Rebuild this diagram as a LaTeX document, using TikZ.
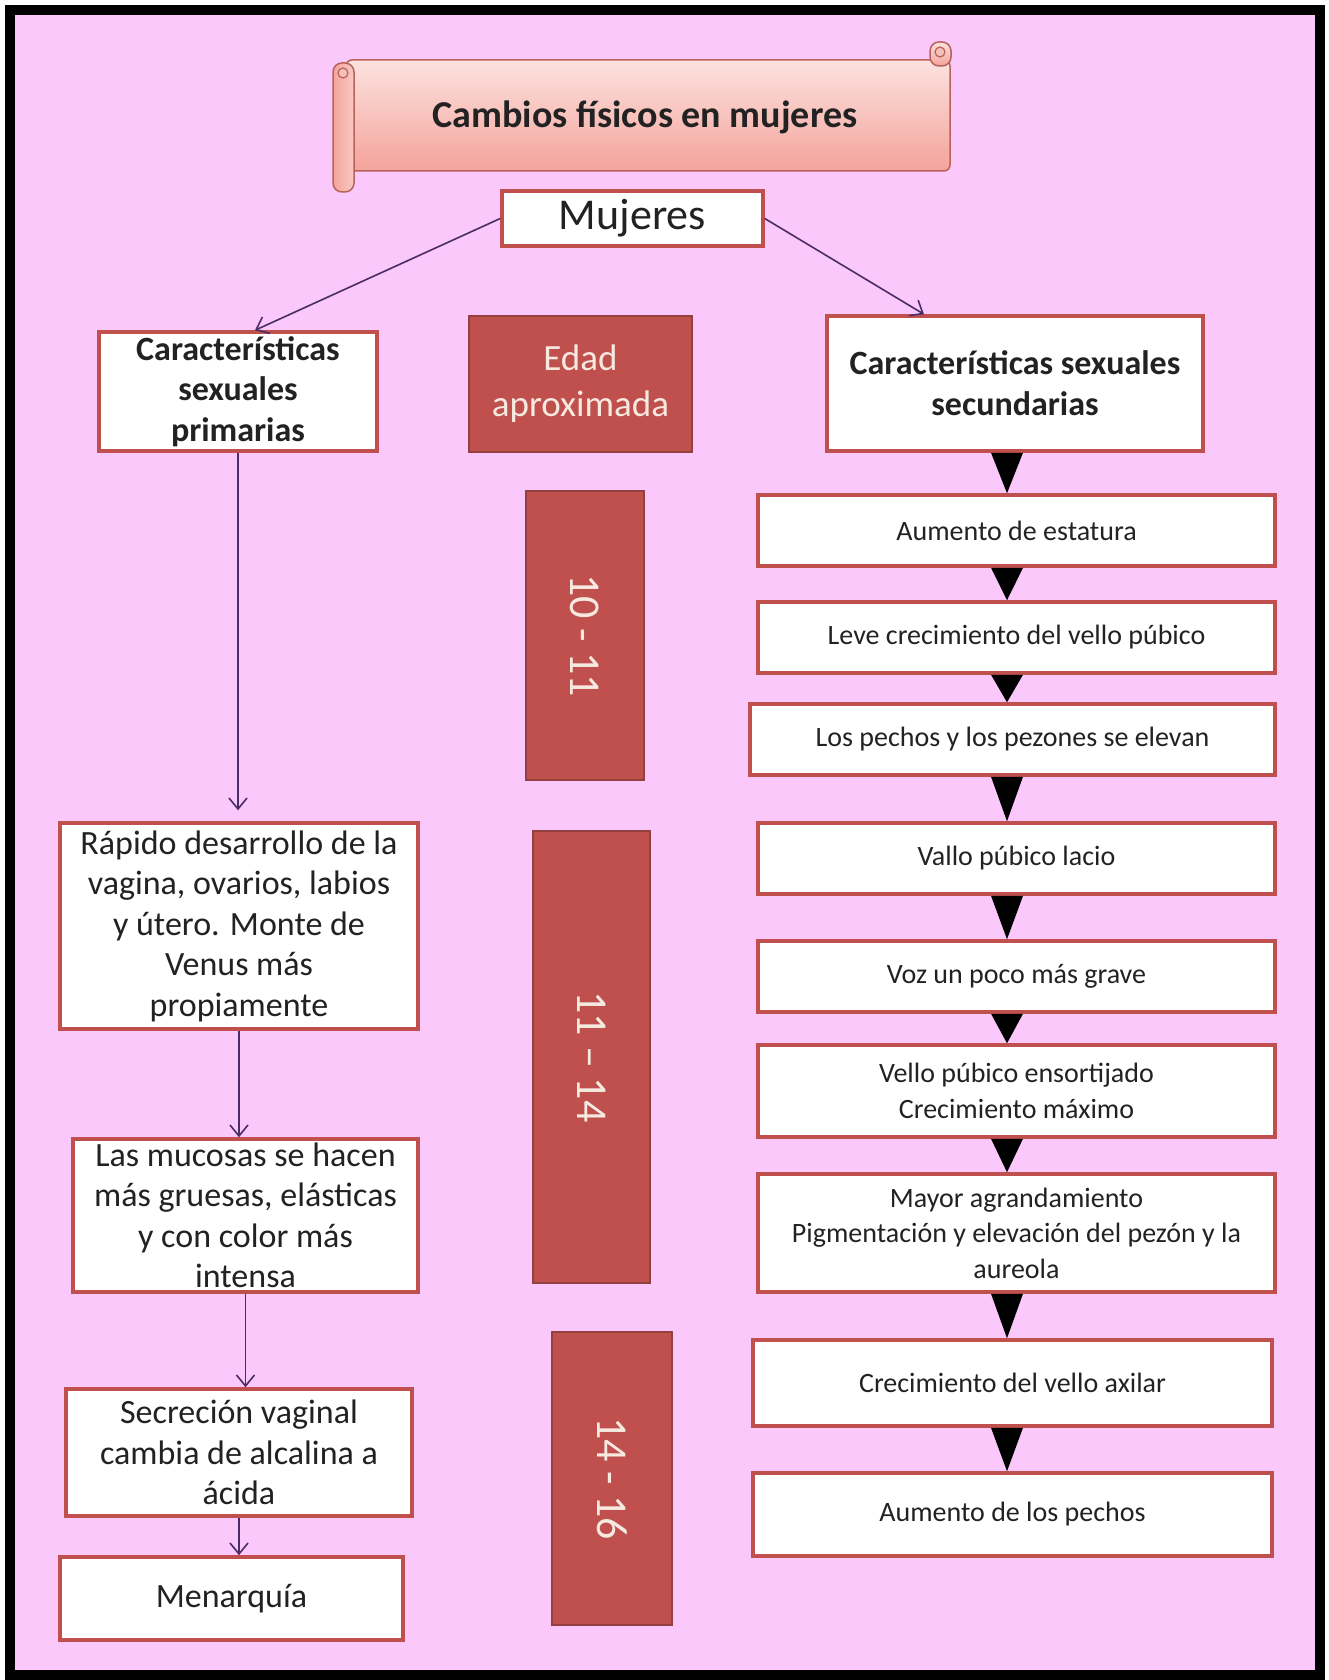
\documentclass[tikz,border=0pt]{standalone}
\usepackage{fontspec}
\setmainfont{Carlito}
\usetikzlibrary{arrows.meta,calc}
\definecolor{bgpink}{HTML}{FBC8FB}
\definecolor{boxred}{HTML}{C0504D}
\definecolor{agefill}{HTML}{C0504D}
\definecolor{ageline}{HTML}{93403E}
\definecolor{agetext}{HTML}{F6E9E0}
\definecolor{arrowcol}{HTML}{4A2D67}
\definecolor{txtcol}{HTML}{222222}
\definecolor{scrolltop}{HTML}{FCE2DF}
\definecolor{scrollbot}{HTML}{F4A39B}
\definecolor{scrollline}{HTML}{B8625C}
\newcommand\myfs[2]{\fontsize{#1}{#2}\selectfont}
\begin{document}
\begin{tikzpicture}[x=1pt,y=-1pt,
  rbox/.style={draw=boxred, line width=3.5pt, fill=white, inner sep=0pt, align=center, text=txtcol},
  agebox/.style={draw=ageline, line width=2.5pt, fill=agefill, inner sep=0pt, align=center, text=agetext},
  conn/.style={draw=arrowcol, line width=1.6pt, -{Straight Barb[length=11pt,width=18pt,line width=1.6pt]}},
  lefttxt/.style={font=\myfs{34}{40.5}},
  righttxt/.style={font=\myfs{28}{35.5}},
  agetxt/.style={font=\myfs{44}{50}}
]
\useasboundingbox (0,0) rectangle (1328,1680);
\fill[white] (0,0) rectangle (1328,1680);
\draw[line width=10pt, fill=bgpink] (10,10) rectangle (1320,1675);

% scroll
\shade[top color=scrolltop, bottom color=scrollbot, draw=scrollline, line width=1.5pt, rounded corners=6pt]
  (346,60) rectangle (950,171);
\shade[top color=scrolltop, bottom color=scrollbot, draw=scrollline, line width=1.5pt, rounded corners=9pt]
  (930,42) rectangle (951,66);
\draw[scrollline, line width=1.2pt, fill=scrollbot!70!white] (940,52) circle (5);
\shade[left color=scrollbot, right color=scrolltop!60!scrollbot, draw=scrollline, line width=1.5pt, rounded corners=9pt]
  (333,63) rectangle (354,192);
\draw[scrollline, line width=1.2pt, fill=scrollbot!70!white] (343,73) circle (5);
\node[font=\myfs{38}{46}\bfseries, text=txtcol] (title) at (645,117) {Cambios físicos en mujeres};

% top level
\node[rbox, minimum width=261pt, minimum height=55pt, font=\myfs{44}{50}] (muj) at (632.5,218.5) {Mujeres};
\node[rbox, minimum width=278pt, minimum height=119pt, font=\myfs{34}{40.5}\bfseries] (prim) at (238,391.5) {Características\\sexuales\\primarias};
\node[agebox, minimum width=223pt, minimum height=136pt, font=\myfs{37}{46}] (edad) at (580.5,384) {Edad\\aproximada};
\node[rbox, minimum width=376pt, minimum height=135pt, font=\myfs{34}{41}\bfseries] (sec) at (1015,383.5) {Características sexuales\\secundarias};

\draw[conn] (muj.west) -- ([xshift=17pt]prim.north);
\draw[conn] (muj.east) -- ([xshift=-91pt]sec.north);

% age boxes
\node[agebox, agetxt, rotate=-90, minimum width=289pt, minimum height=118pt] (a1) at (585,635.5) {10 - 11};
\node[agebox, agetxt, rotate=-90, minimum width=452pt, minimum height=117pt] (a2) at (591.5,1057) {11 – 14};
\node[agebox, agetxt, rotate=-90, minimum width=293pt, minimum height=120pt] (a3) at (612,1478.5) {14 - 16};

% left chain
\node[rbox, lefttxt, minimum width=358pt, minimum height=206pt] (rapido) at (239,926)
  {Rápido desarrollo de la\\vagina, ovarios, labios\\y útero. Monte de\\Venus más\\propiamente};
\node[rbox, lefttxt, minimum width=345pt, minimum height=153pt] (mucosas) at (245.5,1215.5)
  {Las mucosas se hacen\\más gruesas, elásticas\\y con color más\\intensa};
\node[rbox, lefttxt, minimum width=346pt, minimum height=127pt] (secre) at (239,1452.5)
  {Secreción vaginal\\cambia de alcalina a\\ácida};
\node[rbox, lefttxt, minimum width=343pt, minimum height=83pt] (menar) at (231.5,1598.5) {Menarquía};

\draw[conn, shorten >=11pt] (prim.south) -- (prim.south |- rapido.north);
\draw[conn] (rapido.south) -- (rapido.south |- mucosas.north);
\draw[conn] (mucosas.south) -- (mucosas.south |- secre.north);
\draw[conn] (secre.south) -- (secre.south |- menar.north);

% right chain
\node[rbox, righttxt, minimum width=517pt, minimum height=71pt] (b1) at (1016.5,530.5) {Aumento de estatura};
\node[rbox, righttxt, minimum width=517pt, minimum height=71pt] (b2) at (1016.5,637.5) {Leve crecimiento del vello púbico};
\node[rbox, righttxt, minimum width=525pt, minimum height=71pt] (b3) at (1012.5,739.5) {Los pechos y los pezones se elevan};
\node[rbox, righttxt, minimum width=517pt, minimum height=71pt] (b4) at (1016.5,858.5) {Vallo púbico lacio};
\node[rbox, righttxt, minimum width=517pt, minimum height=71pt] (b5) at (1016.5,976.5) {Voz un poco más grave};
\node[rbox, righttxt, minimum width=517pt, minimum height=92pt] (b6) at (1016.5,1091) {Vello púbico ensortijado\\Crecimiento máximo};
\node[rbox, righttxt, minimum width=517pt, minimum height=118pt] (b7) at (1016.5,1233) {Mayor agrandamiento\\Pigmentación y elevación del pezón y la\\aureola};
\node[rbox, righttxt, minimum width=519pt, minimum height=86pt] (b8) at (1012.5,1383) {Crecimiento del vello axilar};
\node[rbox, righttxt, minimum width=519pt, minimum height=83pt] (b9) at (1012.5,1514.5) {Aumento de los pechos};

\coordinate (tl) at (991,0);
\coordinate (tr) at (1023,0);
\coordinate (tx) at (1007,0);
\foreach \u/\v in {sec/b1, b1/b2, b2/b3, b3/b4, b4/b5, b5/b6, b6/b7, b7/b8, b8/b9}{
  \fill[black] (\u.south -| tl) -- (\u.south -| tr) -- (\v.north -| tx) -- cycle;
}
\end{tikzpicture}
\end{document}
